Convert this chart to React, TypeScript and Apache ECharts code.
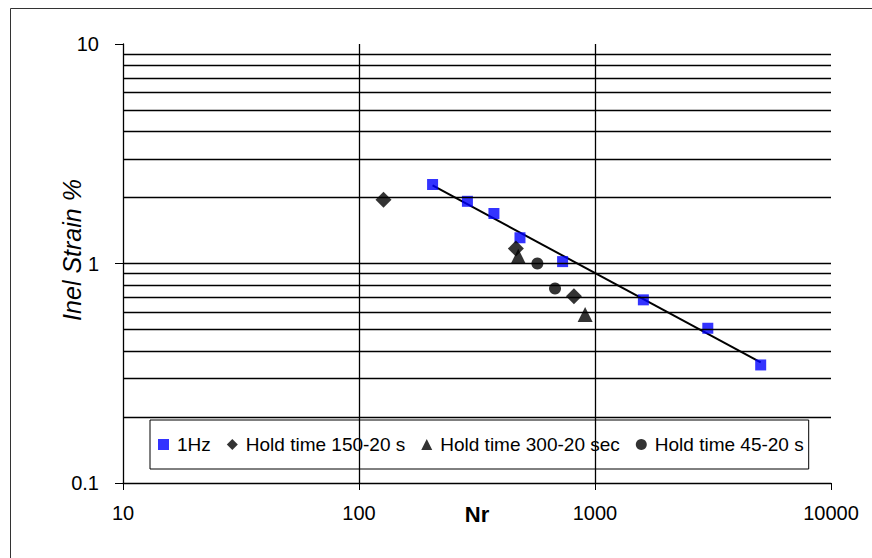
import React, { useEffect, useRef } from "react";
import * as echarts from "echarts";

const xTicks = [10, 100, 1000, 10000];
const yTicks = [0.1, 1, 10];
const xGridValues = [100, 1000];
const yGridValues = [0.2, 0.3, 0.4, 0.5, 0.6, 0.7, 0.8, 0.9, 1, 2, 3, 4, 5, 6, 7, 8, 9];

const hz1X = [205, 288, 373, 481, 729, 1603, 3006, 5036];
const hz1Y = [2.29, 1.92, 1.69, 1.31, 1.02, 0.683, 0.507, 0.345];
const hold150X = [127, 462, 814];
const hold150Y = [1.95, 1.17, 0.709];
const hold300X = [473, 908];
const hold300Y = [1.08, 0.585];
const hold45X = [570, 677];
const hold45Y = [1.0, 0.769];
const trendX = [205, 5036];
const trendY = [2.27, 0.354];

const names = ["1Hz", "Hold time 150-20 s", "Hold time 300-20 sec", "Hold time 45-20 s"];

const pairs = (xs: number[], ys: number[]) => xs.map((x, i) => [x, ys[i]]);

const FONT = "'Liberation Sans', Arial, sans-serif";

export default function App() {
  const ref = useRef<HTMLDivElement>(null);
  useEffect(() => {
    document.body.style.margin = "0";
    const chart = echarts.init(ref.current!, undefined, { renderer: "svg" });
    const gridLine = { color: "#000", width: 1.3, type: "solid" as const };
    chart.setOption({
      animation: false,
      backgroundColor: "#fff",
      textStyle: { fontFamily: FONT },
      grid: { left: 123, right: 41, top: 44, bottom: 75 },
      graphic: [
        {
          type: "rect",
          shape: { x: 10.5, y: 8.5, width: 900, height: 600 },
          style: { fill: "none", stroke: "#333", lineWidth: 1 },
          silent: true,
        },
      ],
      legend: {
        left: 150,
        top: 420,
        padding: [15, 5, 15, 8],
        itemGap: 16,
        itemWidth: 11,
        itemHeight: 11,
        borderColor: "#000",
        borderWidth: 1,
        backgroundColor: "#fff",
        textStyle: { fontSize: 19, color: "#000", fontFamily: FONT, padding: [0, 0, 0, 3] },
        data: [
          { name: names[0], icon: "rect" },
          { name: names[1], icon: "diamond" },
          { name: names[2], icon: "triangle" },
          { name: names[3], icon: "circle" },
        ],
      },
      xAxis: {
        type: "log",
        logBase: 10,
        min: xTicks[0],
        max: xTicks[xTicks.length - 1],
        name: "Nr",
        nameLocation: "middle",
        nameGap: 20,
        nameMoveOverlap: false,
        nameTextStyle: { fontSize: 22, fontWeight: "bold", color: "#000", fontFamily: FONT },
        axisLine: { lineStyle: { color: "#000", width: 1.3 } },
        axisTick: { show: true, length: 7, lineStyle: { color: "#000" } },
        axisLabel: {
          margin: 20,
          fontSize: 20,
          color: "#000",
          fontFamily: FONT,
          formatter: (v: number) => String(Math.round(v)),
        },
        splitLine: { show: false },
      },
      yAxis: {
        type: "log",
        logBase: 10,
        min: yTicks[0],
        max: yTicks[yTicks.length - 1],
        name: "Inel Strain %",
        nameLocation: "middle",
        nameGap: 39,
        nameRotate: 90,
        nameMoveOverlap: false,
        nameTextStyle: {
          fontSize: 25,
          fontStyle: "italic",
          color: "#000",
          fontFamily: FONT,
          padding: [0, 0, 0, 27],
        },
        axisLine: { lineStyle: { color: "#000", width: 1.3 } },
        axisTick: { show: true, length: 8, lineStyle: { color: "#000" } },
        axisLabel: {
          margin: 24,
          fontSize: 20,
          color: "#000",
          fontFamily: FONT,
          formatter: (v: number) => (v >= 1 ? String(Math.round(v)) : String(+v.toFixed(1))),
        },
        splitLine: { show: false },
      },
      series: [
        {
          name: "grid",
          type: "line",
          data: [],
          silent: true,
          markLine: {
            silent: true,
            symbol: "none",
            label: { show: false },
            lineStyle: gridLine,
            animation: false,
            data: [
              ...yGridValues.map((v) => ({ yAxis: v })),
              ...xGridValues.map((v) => ({ xAxis: v })),
            ],
          },
        },
        {
          name: "trend",
          type: "line",
          data: pairs(trendX, trendY),
          symbol: "none",
          lineStyle: { color: "#000", width: 2 },
          z: 3,
        },
        {
          name: names[0],
          type: "scatter",
          data: pairs(hz1X, hz1Y),
          symbol: "rect",
          symbolSize: 11,
          itemStyle: { color: "#0000ff" },
          z: 4,
        },
        {
          name: names[1],
          type: "scatter",
          data: pairs(hold150X, hold150Y),
          symbol: "diamond",
          symbolSize: 16,
          itemStyle: { color: "#000" },
          z: 4,
        },
        {
          name: names[2],
          type: "scatter",
          data: pairs(hold300X, hold300Y),
          symbol: "triangle",
          symbolSize: 15,
          itemStyle: { color: "#000" },
          z: 4,
        },
        {
          name: names[3],
          type: "scatter",
          data: pairs(hold45X, hold45Y),
          symbol: "circle",
          symbolSize: 12,
          itemStyle: { color: "#000" },
          z: 4,
        },
      ],
    });
    return () => chart.dispose();
  }, []);
  return <div ref={ref} style={{ width: 872, height: 558 }} />;
}
